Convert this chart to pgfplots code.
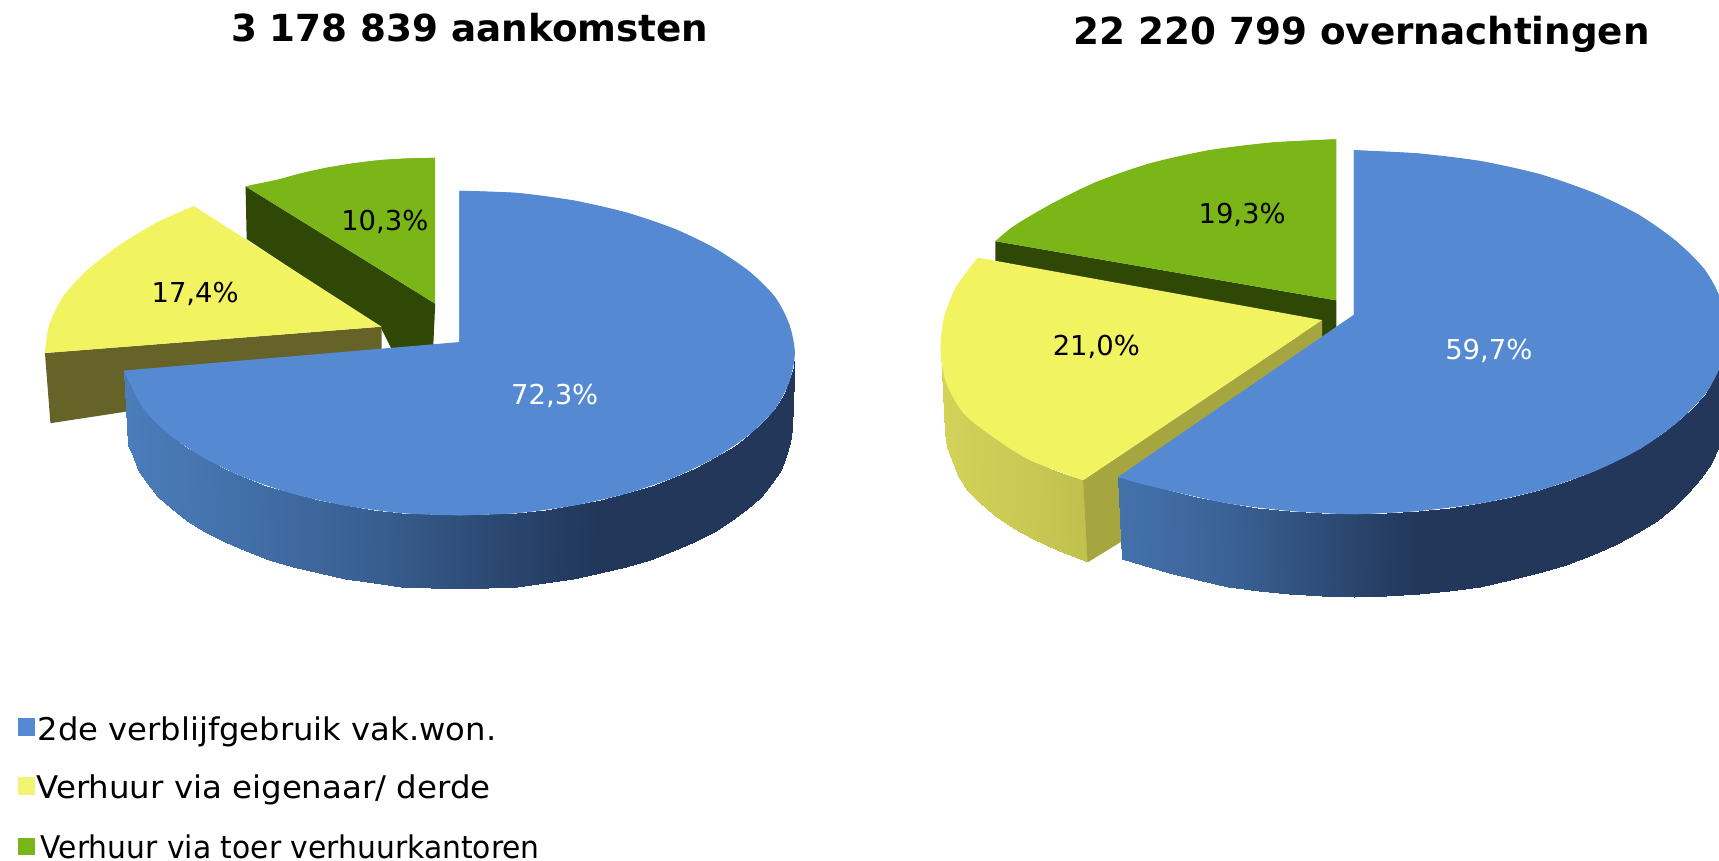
\documentclass[border=0pt]{standalone}
\usepackage{pgfplots}
\pgfplotsset{compat=1.18}
\usepackage{graphicx}
\usepackage{fontspec}
\setmainfont{DejaVu Sans}
\definecolor{cblue}{HTML}{558AD3}
\definecolor{cyellow}{HTML}{F2F361}
\definecolor{cgreen}{HTML}{7AB617}
\definecolor{cdgreen}{HTML}{304806}
\definecolor{colive}{HTML}{666328}
\definecolor{cwall}{HTML}{A6A640}
\pgfplotsset{
  colormap={bluegrad}{rgb255=(75,125,187) rgb255=(58,97,148) rgb255=(34,55,90)},
  colormap={yellowgrad}{rgb255=(211,211,90) rgb255=(192,192,78)},
}
\begin{document}
\begin{tikzpicture}
\begin{axis}[
  scale only axis, width=1568pt, height=785pt,
  xmin=0, xmax=1568, ymin=0, ymax=785, y dir=reverse,
  axis lines=none, clip=true,
  point meta min=0, point meta max=1,
]
\addplot[fill=white,draw=none] coordinates {(0,0)(1568,0)(1568,785)(0,785)};
% ---------- left pie
\addplot[fill=cdgreen,draw=none] coordinates {(224,170)(397,277)(395,320)(358,320)(348,300)(225,218)};
\addplot[fill=cgreen,draw=none] coordinates {(397,277)(397,144)(372,144.5)(347,146)(322,149)(298,153)(275,158)(253,164)(224,170)};
\addplot[fill=cgreen,draw=none,smooth] coordinates {(397,144)(372,144.5)(347,146)(322,149)(298,153)(275,158)(253,164)(224,170)};
\addplot[fill=colive,draw=none] coordinates {(41,322)(348,298)(348,340)(46,386)};
\addplot[fill=cyellow,draw=none] coordinates {(348,298)(41,322)(45,296)(58,270)(80,246)(110,223)(143,203)(177,188)};
\addplot[fill=cyellow,draw=none,smooth] coordinates {(41,322)(45,296)(58,270)(80,246)(110,223)(143,203)(177,188)};
\addplot[surf,shader=interp,mesh/rows=2,colormap name=bluegrad,point meta=\thisrow{c}] table {
x y c
725 322 1
724 335 1
720 348 1
715 360 1
707 373 1
696 385 1
684 396 1
670 407 1
653 417 1
635 427 1
616 435 1
595 443 1
572 450 1
548 456 1
524 461 .96
498 465 .90
472 468 .84
446 469 .78
419 470 .715
392 469 .65
366 468 .59
340 465 .53
314 461 .47
290 456 .41
266 450 .355
243 443 .30
222 435 .25
203 427 .21
185 417 .165
168 407 .125
154 396 .09
142 385 .065
131 373 .04
123 360 .02
118 348 .01
113 338 0
722 391 1
721 404 1
717 416 1
712 429 1
704 441 1
694 453 1
681 464 1
667 475 1
651 485 1
633 494 1
614 503 1
593 511 1
571 517 1
547 523 1
523 528 .96
497 532 .90
472 535 .84
445 536 .78
419 537 .715
393 536 .65
366 535 .59
341 532 .53
315 528 .47
291 523 .41
267 517 .355
245 511 .30
224 503 .25
205 494 .21
187 485 .165
171 475 .125
157 464 .09
144 453 .065
134 441 .04
126 429 .02
121 416 .01
117 406 0
};
\addplot[fill=cblue,draw=none] coordinates {(419,312)(419,174)(472,176)(524,183)(572,194)(616,209)(653,227)(684,248)(707,271)(720,296)(725,322)(720,348)(707,373)(684,396)(653,417)(616,435)(572,450)(524,461)(472,468)(419,470)(366,468)(314,461)(266,450)(222,435)(185,417)(154,396)(131,373)(118,348)(113,338)};
\addplot[fill=cblue,draw=none,smooth] coordinates {(419,174)(472,176)(524,183)(572,194)(616,209)(653,227)(684,248)(707,271)(720,296)(725,322)(720,348)(707,373)(684,396)(653,417)(616,435)(572,450)(524,461)(472,468)(419,470)};
\addplot[fill=cblue,draw=none,smooth] coordinates {(472,468)(419,470)(366,468)(314,461)(266,450)(222,435)(185,417)(154,396)(131,373)(118,348)(113,338)};
% ---------- right pie
\addplot[fill=cdgreen,draw=none] coordinates {(908,220)(1219,274)(1219,310)(1206,310)(908,240)};
\addplot[fill=cgreen,draw=none] coordinates {(1219,274)(1219,127)(1160,130)(1103,137)(1049,149)(1000,166)(959,186)(925,210)(908,220)};
\addplot[fill=cgreen,draw=none,smooth] coordinates {(1219,127)(1160,130)(1103,137)(1049,149)(1000,166)(959,186)(925,206)(908,220)};
\addplot[surf,shader=interp,mesh/rows=2,colormap name=yellowgrad,point meta=\thisrow{c}] table {
x y c
858 320 0
860 335 .02
863 349 .05
870 364 .1
879 377 .15
891 388 .25
905 398 .35
922 410 .47
940 420 .6
963 430 .8
988 438 1
862 395 0
864 408 .02
868 420 .05
874 434 .1
882 447 .15
894 459 .25
907 470 .35
924 482 .47
942 492 .6
966 503 .8
992 513 1
};
\addplot[fill=cwall,draw=none] coordinates {(1206,292)(988,438)(992,513)(1023,494)(1023,445)(1206,320)};
\addplot[fill=cyellow,draw=none] coordinates {(1206,292)(892,235)(872,262)(861,290)(858,320)(863,349)(879,377)(905,398)(940,420)(988,438)};
\addplot[fill=cyellow,draw=none,smooth] coordinates {(892,235)(872,262)(861,290)(858,320)(863,349)(879,377)(905,398)(940,420)(988,438)};
\addplot[surf,shader=interp,mesh/rows=2,colormap name=bluegrad,point meta=\thisrow{c}] table {
x y c
1575 303 1
1574 317 1
1570 332 1
1563 346 1
1555 360 1
1543 373 1
1529 386 1
1513 398 1
1495 410 1
1475 420 1
1454 430 1
1430 439 1
1405 447 1
1379 453 1
1351 459 1
1323 463 1
1294 466 1
1265 468 .92
1235 469 .83
1205 468 .74
1176 466 .65
1147 463 .57
1119 459 .485
1091 453 .40
1065 447 .325
1040 439 .25
1020 435 .2
1572 380 1
1571 394 1
1567 409 1
1561 423 1
1552 436 1
1540 450 1
1527 462 1
1511 475 1
1493 486 1
1473 497 1
1452 506 1
1428 515 1
1403 523 1
1377 529 1
1350 535 1
1322 539 1
1294 542 1
1264 544 .92
1235 545 .83
1206 544 .74
1176 542 .65
1148 539 .57
1120 535 .485
1093 529 .40
1066 523 .325
1042 515 .25
1023 510 .2
};
\addplot[fill=cblue,draw=none] coordinates {(1235,287)(1235,137)(1294,140)(1351,147)(1405,159)(1454,176)(1495,196)(1529,220)(1555,246)(1570,274)(1575,303)(1570,332)(1555,360)(1529,386)(1495,410)(1454,430)(1405,447)(1351,459)(1294,466)(1235,469)(1176,466)(1119,459)(1065,447)(1040,441)(1020,435)};
\addplot[fill=cblue,draw=none,smooth] coordinates {(1235,137)(1294,140)(1351,147)(1405,159)(1454,176)(1495,196)(1529,220)(1555,246)(1570,274)(1575,303)(1570,332)(1555,360)(1529,386)(1495,410)(1454,430)(1405,447)(1351,459)(1294,466)(1235,469)};
\addplot[fill=cblue,draw=none,smooth] coordinates {(1294,466)(1235,469)(1176,466)(1119,459)(1065,447)(1040,441)(1020,435)};
% ---------- legend
\addplot[fill=cblue,draw=none] coordinates {(16,655)(32,655)(32,671)(16,671)};
\addplot[fill=cyellow!90!white,draw=none] coordinates {(16,709)(32,709)(32,725)(16,725)};
\addplot[fill=cgreen,draw=none] coordinates {(16,764)(32,764)(32,780)(16,780)};
% ---------- text
\node[font=\fontsize{34}{40}\selectfont\bfseries] at (axis cs:428.5,25) {3 178 839 aankomsten};
\node[font=\fontsize{34}{40}\selectfont\bfseries] at (axis cs:1242,31) {22 220 799 overnachtingen};
\node[font=\fontsize{25}{30}\selectfont,white] at (axis cs:506,361) {72,3\%};
\node[font=\fontsize{25}{30}\selectfont] at (axis cs:178,268) {17,4\%};
\node[font=\fontsize{25}{30}\selectfont] at (axis cs:351,202) {10,3\%};
\node[font=\fontsize{25}{30}\selectfont,white] at (axis cs:1358,320) {59,7\%};
\node[font=\fontsize{25}{30}\selectfont] at (axis cs:1000,316) {21,0\%};
\node[font=\fontsize{25}{30}\selectfont] at (axis cs:1133,196) {19,3\%};
\node[font=\fontsize{28.5}{32}\selectfont,anchor=base west,inner sep=0pt] at (axis cs:34,675) {\scalebox{1.032}[1]{2de verblijfgebruik vak.won.}};
\node[font=\fontsize{28.5}{32}\selectfont,anchor=base west,inner sep=0pt] at (axis cs:33,728) {\scalebox{1.038}[1]{Verhuur via eigenaar/ derde}};
\node[font=\fontsize{28.5}{32}\selectfont,anchor=base west,inner sep=0pt] at (axis cs:37,783) {\scalebox{.953}[1]{Verhuur via toer verhuurkantoren}};
\end{axis}
\end{tikzpicture}
\end{document}
